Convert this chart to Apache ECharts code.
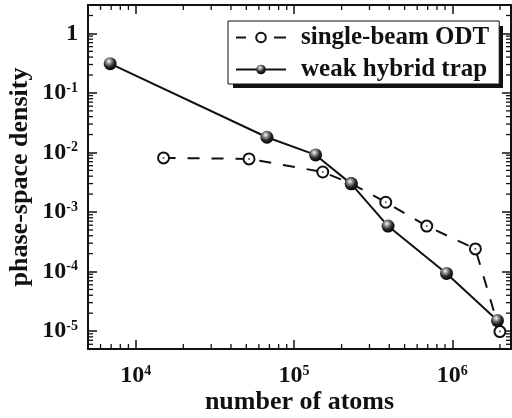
<!DOCTYPE html>
<html>
<head>
<meta charset="utf-8">
<script src="https://cdn.jsdelivr.net/npm/echarts@6/dist/echarts.min.js"></script>
<style>
  html, body { margin: 0; padding: 0; background: #fff; }
  #chart { width: 512px; height: 418px; }
</style>
</head>
<body>
<div id="chart"></div>
<script>
// single-beam ODT (open circles, dashed)
const odtAtoms = [1.5e4, 5.2e4, 1.52e5, 2.3e5, 3.8e5, 6.9e5, 1.4e6, 2.0e6];
const odtPsd = [8.1e-3, 7.8e-3, 4.7e-3, 3.0e-3, 1.46e-3, 5.8e-4, 2.4e-4, 9.8e-6];
// weak hybrid trap (filled balls, solid)
const hybridAtoms = [6.9e3, 6.75e4, 1.37e5, 2.3e5, 3.93e5, 9.2e5, 1.93e6];
const hybridPsd = [0.31, 0.018, 9.1e-3, 2.97e-3, 5.8e-4, 9.3e-5, 1.5e-5];

const xRange = [5e3, 2.35e6];
const yRange = [5e-6, 3];
const xDecades = [1e3, 1e4, 1e5, 1e6];
const yDecades = [1e-6, 1e-5, 1e-4, 1e-3, 1e-2, 1e-1, 1];
const minorMult = [2, 3, 4, 5, 6, 7, 8, 9];

const FONT = 'Liberation Serif';

function minorTicks(decades, range) {
  const out = [];
  decades.forEach(d => minorMult.forEach(m => {
    const v = d * m;
    if (v > range[0] * 1.001 && v < range[1] * 0.999) out.push(v);
  }));
  return out;
}
const xMinor = minorTicks(xDecades, xRange);
const yMinor = minorTicks(yDecades, yRange);

function powLabel(v) {
  const l = Math.log10(v);
  const e = Math.round(l);
  if (Math.abs(l - e) > 1e-6) return '';
  if (e === 0) return '{b|1}';
  return '{b|10}{s|' + e + '}';
}

const labelRich = {
  b: { fontFamily: FONT, fontWeight: 'bold', fontSize: 24, color: '#111', lineHeight: 24 },
  s: { fontFamily: FONT, fontWeight: 'bold', fontSize: 14, color: '#111', verticalAlign: 'top', lineHeight: 12 }
};

const lineAx = { show: true, onZero: false, lineStyle: { color: '#111', width: 2 } };
const tickAx = { show: true, inside: true, length: 9, lineStyle: { color: '#111', width: 1.5 } };
const nameStyle = { fontFamily: FONT, fontWeight: 'bold', fontSize: 26, color: '#111' };

function xAxisOpt(pos, showLabel) {
  return {
    type: 'log', logBase: 10, min: xRange[0], max: xRange[1], position: pos,
    axisLine: lineAx, axisTick: tickAx, splitLine: { show: false },
    axisLabel: { show: showLabel, margin: 15, formatter: powLabel, rich: labelRich,
      showMinLabel: false, showMaxLabel: false },
    name: showLabel ? 'number of atoms' : '',
    nameLocation: 'middle', nameGap: 40, nameMoveOverlap: false, nameTextStyle: nameStyle
  };
}
function yAxisOpt(pos, showLabel) {
  return {
    type: 'log', logBase: 10, min: yRange[0], max: yRange[1], position: pos,
    axisLine: lineAx, axisTick: tickAx, splitLine: { show: false },
    axisLabel: { show: showLabel, margin: 10, formatter: powLabel, rich: labelRich,
      showMinLabel: false, showMaxLabel: false },
    name: showLabel ? 'phase-space density' : '',
    nameLocation: 'middle', nameGap: 55, nameMoveOverlap: false, nameTextStyle: nameStyle
  };
}

const ballColor = {
  type: 'radial', x: 0.4, y: 0.32, r: 0.7,
  colorStops: [
    { offset: 0, color: '#ffffff' },
    { offset: 0.25, color: '#9a9a9a' },
    { offset: 0.6, color: '#2a2a2a' },
    { offset: 1, color: '#000000' }
  ]
};

const chart = echarts.init(document.getElementById('chart'));
chart.setOption({
  animation: false,
  backgroundColor: '#fff',
  grid: { left: 88, right: 1, top: 5, bottom: 69, outerBoundsMode: 'none', containLabel: false },
  xAxis: [xAxisOpt('bottom', true), xAxisOpt('top', false)],
  yAxis: [yAxisOpt('left', true), yAxisOpt('right', false)],
  // drop shadow of the legend box
  graphic: [{
    type: 'rect', left: 233, top: 26, z: 3, silent: true,
    shape: { width: 270, height: 62 },
    style: { fill: '#111' }
  }],
  legend: {
    data: [
      { name: 'single-beam ODT', lineStyle: { type: [10, 28, 12, 1] } },
      { name: 'weak hybrid trap' }
    ],
    orient: 'vertical',
    left: 228, top: 21, z: 5,
    padding: [4, 10, 2, 7],
    itemGap: 7,
    itemWidth: 50, itemHeight: 12,
    backgroundColor: '#fff',
    borderColor: '#111', borderWidth: 1, borderRadius: 0,
    textStyle: { fontFamily: FONT, fontWeight: 'bold', fontSize: 25, color: '#111', padding: [0, 0, 0, 10] }
  },
  series: [
    {
      name: 'xMinor', type: 'custom', silent: true, z: 1,
      data: xMinor.map(v => [v, 1]),
      renderItem: (params, api) => {
        const x = api.coord([api.value(0), 1])[0];
        const cs = params.coordSys;
        const st = { stroke: '#111', lineWidth: 1.3 };
        return { type: 'group', children: [
          { type: 'line', shape: { x1: x, y1: cs.y + cs.height, x2: x, y2: cs.y + cs.height - 5 }, style: st },
          { type: 'line', shape: { x1: x, y1: cs.y, x2: x, y2: cs.y + 5 }, style: st }
        ] };
      }
    },
    {
      name: 'yMinor', type: 'custom', silent: true, z: 1,
      data: yMinor.map(v => [1e4, v]),
      renderItem: (params, api) => {
        const y = api.coord([1e4, api.value(1)])[1];
        const cs = params.coordSys;
        const st = { stroke: '#111', lineWidth: 1.3 };
        return { type: 'group', children: [
          { type: 'line', shape: { x1: cs.x, y1: y, x2: cs.x + 5, y2: y }, style: st },
          { type: 'line', shape: { x1: cs.x + cs.width, y1: y, x2: cs.x + cs.width - 5, y2: y }, style: st }
        ] };
      }
    },
    {
      name: 'single-beam ODT', type: 'line',
      data: odtAtoms.map((x, i) => [x, odtPsd[i]]),
      symbol: 'emptyCircle', symbolSize: 11,
      itemStyle: { color: '#111', borderColor: '#111', borderWidth: 1 },
      lineStyle: { color: '#111', width: 2, type: [12, 12] },
      z: 3
    },
    {
      name: 'odtDot', type: 'scatter', silent: true,
      data: odtAtoms.map((x, i) => [x, odtPsd[i]]),
      symbol: 'circle', symbolSize: 2,
      itemStyle: { color: '#333' },
      z: 3
    },
    {
      name: 'weak hybrid trap', type: 'line',
      data: hybridAtoms.map((x, i) => [x, hybridPsd[i]]),
      symbol: 'circle', symbolSize: 13,
      itemStyle: { color: ballColor },
      lineStyle: { color: '#111', width: 2 },
      z: 4
    }
  ]
});
</script>
</body>
</html>
